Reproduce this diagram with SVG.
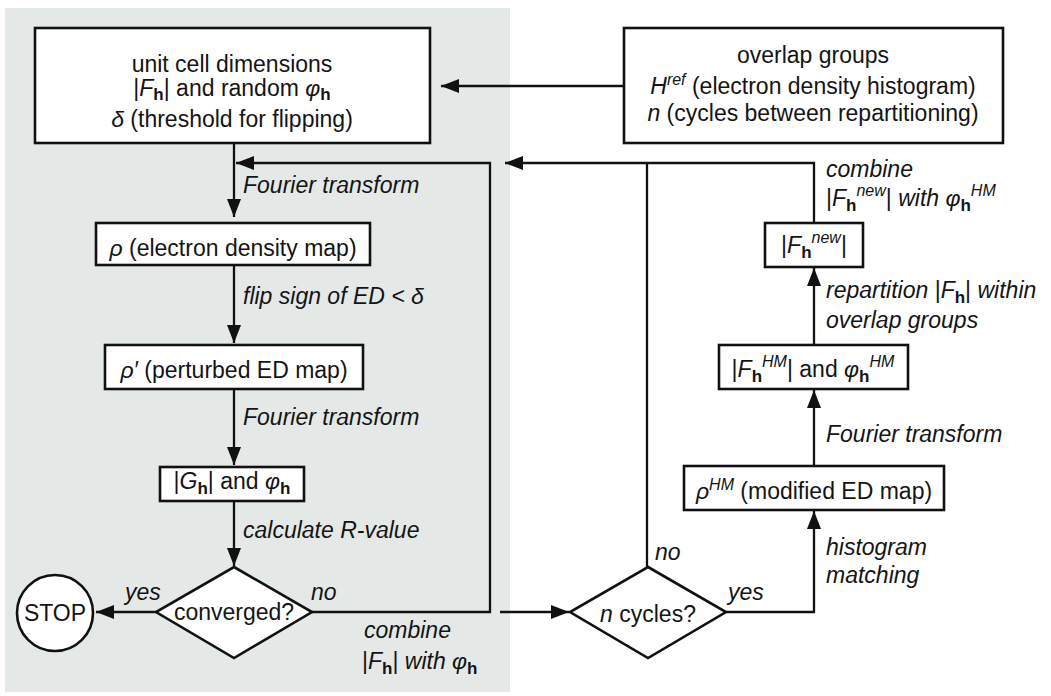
<svg xmlns="http://www.w3.org/2000/svg" width="1051" height="696" viewBox="0 0 1051 696">
<style>
text{font-family:"Liberation Sans",Arial,sans-serif;font-size:23px;fill:#141414}
.c{text-anchor:middle}
.i{font-style:italic}
.sb{font-weight:bold;font-size:17px}
.sp{font-style:italic;font-size:16px}
.box{fill:#fff;stroke:#111;stroke-width:2.6}
.ln{fill:none;stroke:#111;stroke-width:2.3}
</style>
<defs>
<marker id="ah" viewBox="0 0 18 14" refX="18" refY="7" markerWidth="18" markerHeight="14" markerUnits="userSpaceOnUse" orient="auto">
<path d="M0,0 L18,7 L0,14 z" fill="#111"/>
</marker>
</defs>
<rect x="0" y="0" width="1051" height="696" fill="#fff"/>
<rect x="5" y="8" width="505" height="684" fill="#e4e9e7"/>

<g id="connectors">
<path class="ln" d="M624,86 H441" marker-end="url(#ah)"/>
<path class="ln" d="M234,143 V217" marker-end="url(#ah)"/>
<path class="ln" d="M234,265 V343" marker-end="url(#ah)"/>
<path class="ln" d="M234,389 V465" marker-end="url(#ah)"/>
<path class="ln" d="M234,501 V566" marker-end="url(#ah)"/>
<path class="ln" d="M156,612 H96" marker-end="url(#ah)"/>
<path class="ln" d="M312,612 H490 V163 H236" marker-end="url(#ah)"/>
<path class="ln" d="M500,612 H569" marker-end="url(#ah)"/>
<path class="ln" d="M814,223 V163 H505" marker-end="url(#ah)"/>
<path class="ln" d="M647,567 V163"/>
<path class="ln" d="M726,612 H814 V511" marker-end="url(#ah)"/>
<path class="ln" d="M814,466 V390" marker-end="url(#ah)"/>
<path class="ln" d="M814,345 V268" marker-end="url(#ah)"/>
</g>

<g id="labels">
<text x="243" y="193" class="i">Fourier transform</text>
<text x="243" y="304" class="i">flip sign of ED &lt; δ</text>
<text x="243" y="425" class="i">Fourier transform</text>
<text x="243" y="538" class="i">calculate R-value</text>
<text x="125" y="600" class="i">yes</text>
<text x="311" y="600" class="i">no</text>
<text x="364" y="638" class="i">combine</text>
<text x="362" y="669"><tspan>|</tspan><tspan class="i">F</tspan><tspan class="sb" dy="5">h</tspan><tspan dy="-5">|</tspan><tspan class="i"> with φ</tspan><tspan class="sb" dy="5">h</tspan></text>
<text x="655" y="560" class="i">no</text>
<text x="728" y="600" class="i">yes</text>
<text x="826" y="555" class="i">histogram</text>
<text x="826" y="583" class="i">matching</text>
<text x="826" y="442" class="i">Fourier transform</text>
<text x="826" y="298"><tspan class="i">repartition </tspan><tspan>|</tspan><tspan class="i">F</tspan><tspan class="sb" dy="5">h</tspan><tspan dy="-5">|</tspan><tspan class="i"> within</tspan></text>
<text x="826" y="328" class="i">overlap groups</text>
<text x="826" y="177" class="i">combine</text>
<text x="826" y="206"><tspan>|</tspan><tspan class="i">F</tspan><tspan class="sb" dy="5">h</tspan><tspan class="sp" dy="-15">new</tspan><tspan dy="10">|</tspan><tspan class="i"> with φ</tspan><tspan class="sb" dy="5">h</tspan><tspan class="sp" dy="-15">HM</tspan></text>
</g>

<g id="n-start">
<rect class="box" x="35" y="28" width="395" height="115"/>
<text class="c" x="232" y="72">unit cell dimensions</text>
<text class="c" x="232" y="96"><tspan>|</tspan><tspan class="i">F</tspan><tspan class="sb" dy="4">h</tspan><tspan dy="-4">| and random </tspan><tspan class="i">φ</tspan><tspan class="sb" dy="4">h</tspan></text>
<text class="c" x="232" y="127"><tspan class="i">δ</tspan> (threshold for flipping)</text>
</g>

<g id="n-overlap">
<rect class="box" x="624" y="28" width="379" height="115"/>
<text class="c" x="813" y="63">overlap groups</text>
<text class="c" x="813" y="94"><tspan class="i">H</tspan><tspan class="sp" dy="-9">ref</tspan><tspan dy="9"> (electron density histogram)</tspan></text>
<text class="c" x="813" y="121"><tspan class="i">n</tspan> (cycles between repartitioning)</text>
</g>

<g id="n-rho">
<rect class="box" x="96" y="223" width="274" height="42"/>
<text class="c" x="233" y="256"><tspan class="i">ρ</tspan> (electron density map)</text>
</g>

<g id="n-rhop">
<rect class="box" x="105" y="345" width="258" height="44"/>
<text class="c" x="234" y="378"><tspan class="i">ρ′</tspan> (perturbed ED map)</text>
</g>

<g id="n-g">
<rect class="box" x="160" y="467" width="144" height="34"/>
<text class="c" x="232" y="489"><tspan>|</tspan><tspan class="i">G</tspan><tspan class="sb" dy="5">h</tspan><tspan dy="-5">| and </tspan><tspan class="i">φ</tspan><tspan class="sb" dy="5">h</tspan></text>
</g>

<g id="n-converged">
<polygon class="box" points="234,567 312,612 234,658 156,612"/>
<text class="c" x="234" y="620">converged?</text>
</g>

<g id="n-stop">
<circle class="box" cx="55" cy="613" r="38"/>
<text class="c" x="55" y="621">STOP</text>
</g>

<g id="n-ncycles">
<polygon class="box" points="648,567 726,612 648,658 570,612"/>
<text class="c" x="648" y="622"><tspan class="i">n</tspan> cycles?</text>
</g>

<g id="n-rhohm">
<rect class="box" x="684" y="466" width="260" height="44"/>
<text class="c" x="814" y="499"><tspan class="i">ρ</tspan><tspan class="sp" dy="-9">HM</tspan><tspan dy="9"> (modified ED map)</tspan></text>
</g>

<g id="n-fhm">
<rect class="box" x="719" y="345" width="189" height="44"/>
<text class="c" x="813" y="377"><tspan>|</tspan><tspan class="i">F</tspan><tspan class="sb" dy="5">h</tspan><tspan class="sp" dy="-15">HM</tspan><tspan dy="10">| and </tspan><tspan class="i">φ</tspan><tspan class="sb" dy="5">h</tspan><tspan class="sp" dy="-15">HM</tspan></text>
</g>

<g id="n-fnew">
<rect class="box" x="765" y="223" width="98" height="44"/>
<text class="c" x="814" y="253"><tspan>|</tspan><tspan class="i">F</tspan><tspan class="sb" dy="5">h</tspan><tspan class="sp" dy="-15">new</tspan><tspan dy="10">|</tspan></text>
</g>
</svg>
